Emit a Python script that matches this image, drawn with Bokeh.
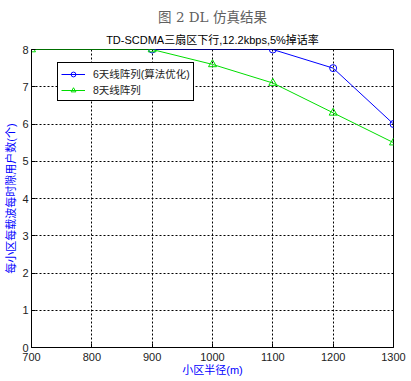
from bokeh.plotting import figure
from bokeh.models import Range1d, FixedTicker, Legend, LegendItem, Title
from bokeh.embed import file_html
from bokeh.resources import INLINE

# ---- data ----
x_ticks = [700, 800, 900, 1000, 1100, 1200, 1300]
y_ticks = [0, 1, 2, 3, 4, 5, 6, 7, 8]
x_6ant = [900, 1100, 1200, 1300]
y_6ant = [8, 8, 7.5, 6]
x_8ant = [700, 900, 1000, 1100, 1200, 1300]
y_8ant = [8, 8, 7.6, 7.1, 6.3, 5.5]
name_6ant = "6天线阵列(算法优化)"
name_8ant = "8天线阵列"
title_main = "TD-SCDMA三扇区下行,12.2kbps,5%掉话率"
title_top = "图 2 DL 仿真结果"
x_label = "小区半径(m)"
y_label = "每小区每载波每时隙用户数(个)"

FONT = "'Liberation Sans', 'Noto Sans CJK SC', sans-serif"

p = figure(width=411, height=381, output_backend="svg", toolbar_location=None,
           x_range=Range1d(700, 1300), y_range=Range1d(0, 8),
           min_border_left=31, min_border_right=18, min_border_top=49,
           min_border_bottom=34)

p.add_layout(Title(text=title_main, align="center", text_font=FONT,
                   text_font_size="11px", text_font_style="normal",
                   text_color="black", standoff=8), "above")
p.add_layout(Title(text=title_top, align="center",
                   text_font="'DejaVu Serif', 'Noto Sans CJK SC', serif",
                   text_font_size="13.5px", text_font_style="normal",
                   text_color="#606060", standoff=5), "above")

r6l = p.line(x_6ant, y_6ant, line_color="blue", line_width=1)
r6m = p.scatter(x_6ant, y_6ant, marker="circle", size=7, fill_color=None,
                line_color="blue", line_width=1)
r8l = p.line(x_8ant, y_8ant, line_color="#00dd00", line_width=1)
r8m = p.scatter(x_8ant, y_8ant, marker="triangle", size=8, fill_color=None,
                line_color="#00dd00", line_width=1)

for ax in (p.xaxis[0], p.yaxis[0]):
    ax.major_tick_in = 4
    ax.major_tick_out = 0
    ax.minor_tick_line_color = None
    ax.axis_line_color = "black"
    ax.major_tick_line_color = "black"
    ax.major_label_text_font = FONT
    ax.major_label_text_font_size = "11px"
    ax.major_label_text_color = "#222222"
    ax.axis_label_text_font = FONT
    ax.axis_label_text_font_size = "11px"
    ax.axis_label_text_font_style = "normal"
    ax.axis_label_text_color = "blue"

p.xaxis.ticker = FixedTicker(ticks=x_ticks)
p.yaxis.ticker = FixedTicker(ticks=y_ticks)
p.xaxis.axis_label = x_label
p.yaxis.axis_label = y_label
p.xaxis.major_label_standoff = 5
p.yaxis.major_label_standoff = 3
p.xaxis.axis_label_standoff = 0
p.yaxis.axis_label_standoff = 2

p.grid.grid_line_color = "black"
p.grid.grid_line_dash = "2 2"
p.grid.grid_line_width = 1
p.grid.grid_line_alpha = 1.0

p.outline_line_color = "black"
p.outline_line_alpha = 1.0
p.outline_line_width = 1
p.background_fill_color = "white"
p.border_fill_color = "white"

legend = Legend(items=[LegendItem(label=name_6ant, renderers=[r6l, r6m]),
                       LegendItem(label=name_8ant, renderers=[r8l, r8m])],
                location=(26, 246))
legend.label_text_font = FONT
legend.label_text_font_size = "10.5px"
legend.label_text_color = "#222222"
legend.label_height = 12
legend.glyph_height = 12
legend.glyph_width = 24
legend.spacing = 1
legend.padding = 3
legend.margin = 0
legend.label_standoff = 8
legend.border_line_color = "black"
legend.border_line_width = 1
legend.border_line_alpha = 1.0
legend.background_fill_alpha = 1.0
p.add_layout(legend, "center")

open("out.html", "w").write(file_html(p, INLINE))
